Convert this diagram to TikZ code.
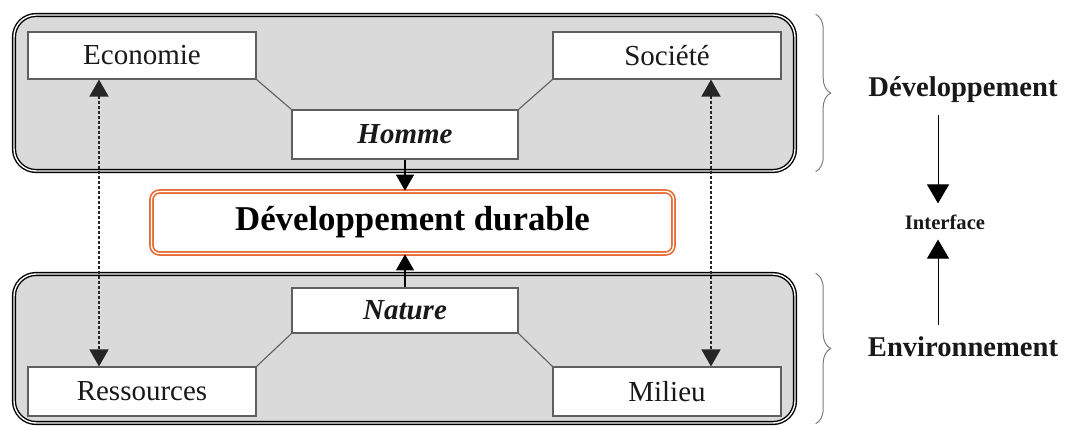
\documentclass[tikz,border=0pt]{standalone}
\usepackage{fontspec}
\setmainfont{Liberation Serif}
\usetikzlibrary{positioning,arrows.meta,decorations.pathreplacing}
\definecolor{panelfill}{RGB}{218,218,218}
\definecolor{boxdraw}{RGB}{95,95,95}
\definecolor{orange2}{RGB}{232,108,52}
\definecolor{bracecol}{RGB}{125,125,125}
\definecolor{txtcol}{RGB}{25,25,25}

\begin{document}
\begin{tikzpicture}[x=1pt,y=-1pt,font=\fontsize{29}{32}\selectfont]
\tikzset{
  PN/.style={draw=black,double=white,double distance=1.4pt,line width=1.4pt,fill=panelfill,rounded corners=22pt,minimum width=781pt,inner sep=0pt},
  BX/.style={draw=boxdraw,fill=white,line width=1.1pt,minimum width=228pt,minimum height=47pt,inner sep=0pt,text=txtcol},
  DD/.style={draw=orange2,double=white,double distance=1.3pt,line width=1.7pt,fill=white,rounded corners=8pt,minimum width=522pt,minimum height=62pt,inner sep=0pt,font=\fontsize{34.8}{38}\selectfont\bfseries},
  SD/.style={text=txtcol,inner sep=2pt},
  LN/.style={boxdraw,line width=1.1pt},
  AR/.style={-{Triangle[width=18pt,length=16pt]},line width=1.2pt,black},
  DT/.style={{Triangle[width=19pt,length=17pt]}-{Triangle[width=19pt,length=17pt]},line width=1.5pt,dash pattern=on 2.5pt off 2.5pt,black!85},
  RA/.style={-{Triangle[width=22pt,length=19pt]},line width=1pt,black},
  BR/.style={decorate,decoration={brace,amplitude=15pt},bracecol,line width=1pt},
}
\useasboundingbox (0,0) rectangle (1066,427);

% panels
\node[PN,minimum height=156pt](dvp) at (404.5,93.0){};
\node[PN,minimum height=149pt](env) at (404.5,348.5){};

% top panel
\node[BX](eco) at (142,55.5){Economie};
\node[BX](soc) at (667,55.5){Société};
\node[BX,minimum width=226pt,minimum height=49pt,font=\fontsize{29}{32}\selectfont\bfseries\itshape](hom) at (405,134.5){Homme};

% bottom panel
\node[BX,minimum width=226pt,minimum height=45pt,font=\fontsize{29}{32}\selectfont\bfseries\itshape](nat) at (405,310.5){Nature};
\node[BX,minimum height=49pt](res) at (142,391.5){Ressources};
\node[BX,minimum height=49pt](mil) at (667,391.5){Milieu};

% interface
\node[DD](dd) at (412.5,222.5){Développement durable};

\draw[LN](eco.south east)--(hom.north west);
\draw[LN](hom.north east)--(soc.south west);
\draw[LN](res.north east)--(nat.south west);
\draw[LN](nat.south east)--(mil.north west);

\draw[AR](hom.south)--(hom.south |- dd.north);
\draw[AR](nat.north)--(nat.north |- dd.south);

\draw[DT]([xshift=-43pt]eco.south)--([xshift=-43pt]res.north);
\draw[DT]([xshift=44pt]soc.south)--([xshift=44pt]mil.north);

% right side
\draw[BR]([xshift=20pt]dvp.north east)--([xshift=20pt]dvp.south east);
\draw[BR]([xshift=20pt]env.north east)--([xshift=20pt]env.south east);

\node[SD,font=\fontsize{28.6}{31}\selectfont\bfseries](dev) at (963,90){Développement};
\node[SD,font=\fontsize{28.6}{31}\selectfont\bfseries](envl) at (963,347){Environnement};
\node[SD,font=\fontsize{20.6}{23}\selectfont\bfseries](itf) at (945,222){Interface};

\draw[RA]([xshift=-7pt,yshift=-10pt]dev.south -| itf.north)--([xshift=-7pt,yshift=9pt]itf.north);
\draw[RA]([xshift=-7pt,yshift=10pt]envl.north -| itf.south)--([xshift=-7pt,yshift=-8pt]itf.south);

\end{tikzpicture}
\end{document}
